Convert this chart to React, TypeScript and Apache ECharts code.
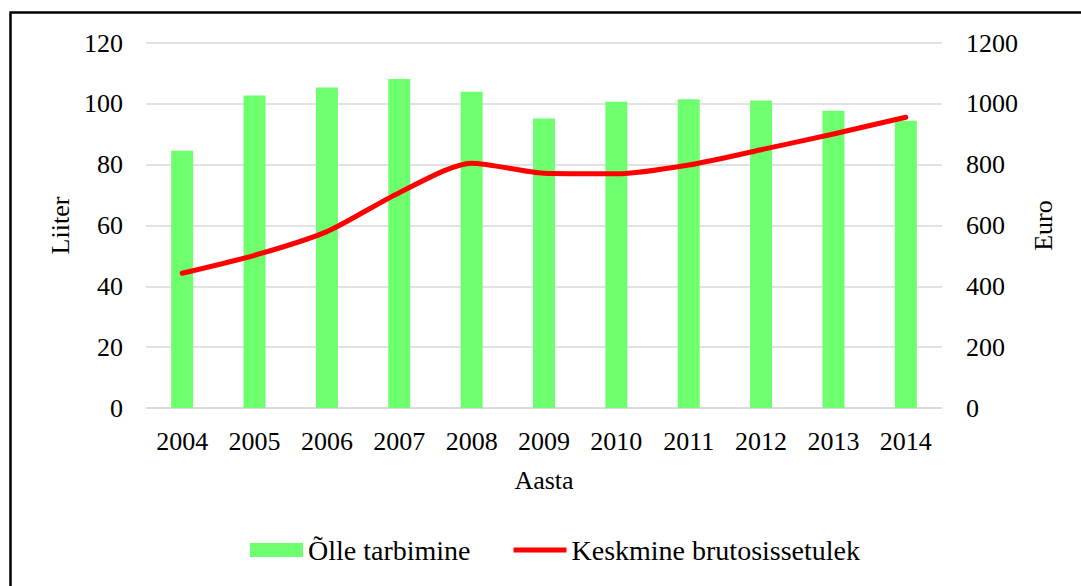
import React, { useEffect, useRef } from "react";
import * as echarts from "echarts";

const years = ["2004", "2005", "2006", "2007", "2008", "2009", "2010", "2011", "2012", "2013", "2014"];
const beerConsumption = [84.6, 102.7, 105.4, 108.2, 104.0, 95.2, 100.7, 101.5, 101.1, 97.7, 94.4];
const avgGrossIncome = [443, 502, 580, 708, 805, 772, 770, 799, 849, 901, 956];

const FONT = "Liberation Serif";

export default function App() {
  const ref = useRef<HTMLDivElement>(null);
  useEffect(() => {
    if (!ref.current) return;
    const chart = echarts.init(ref.current, undefined, { renderer: "svg" });
    chart.setOption({
      animation: false,
      backgroundColor: "#ffffff",
      textStyle: { fontFamily: FONT, color: "#000" },
      grid: { left: 146, right: 139, top: 43, bottom: 178, containLabel: false },
      graphic: [
        {
          type: "rect",
          shape: { x: 10.5, y: 12.5, width: 1200, height: 700 },
          style: { fill: "none", stroke: "#000", lineWidth: 2.5 },
          silent: true,
        },
      ],
      legend: {
        bottom: 17,
        left: 245,
        itemWidth: 53,
        itemHeight: 14,
        itemGap: 43,
        textStyle: { fontFamily: FONT, fontSize: 28, color: "#000" },
        data: [
          { name: "Õlle tarbimine", icon: "rect" },
          { name: "Keskmine brutosissetulek", icon: "path://M0,0 L53,0 L53,5 L0,5 Z" },
        ],
      },
      xAxis: {
        type: "category",
        data: years,
        name: "Aasta",
        nameLocation: "middle",
        nameGap: 59,
        nameTextStyle: { fontFamily: FONT, fontSize: 26, color: "#000" },
        axisLine: { show: true, lineStyle: { color: "#D9D9D9", width: 1.5 } },
        axisTick: { show: false },
        axisLabel: { fontFamily: FONT, fontSize: 26, color: "#000", margin: 20 },
      },
      yAxis: [
        {
          type: "value",
          min: 0,
          max: 120,
          interval: 20,
          name: "Liiter",
          nameLocation: "middle",
          nameRotate: 90,
          nameGap: 70,
          nameTextStyle: { fontFamily: FONT, fontSize: 26, color: "#000" },
          axisLine: { show: false },
          axisTick: { show: false },
          axisLabel: { fontFamily: FONT, fontSize: 26, color: "#000", margin: 23 },
          splitLine: { lineStyle: { color: "#D9D9D9", width: 1.5 } },
        },
        {
          type: "value",
          min: 0,
          max: 1200,
          interval: 200,
          name: "Euro",
          nameLocation: "middle",
          nameRotate: 90,
          nameGap: 88,
          nameTextStyle: { fontFamily: FONT, fontSize: 26, color: "#000" },
          axisLine: { show: false },
          axisTick: { show: false },
          axisLabel: {
            fontFamily: FONT,
            fontSize: 26,
            color: "#000",
            margin: 24,
            formatter: (v: number) => String(v),
          },
          splitLine: { show: false },
        },
      ],
      series: [
        {
          name: "Õlle tarbimine",
          type: "bar",
          yAxisIndex: 0,
          data: beerConsumption,
          barWidth: 22,
          itemStyle: { color: "#6DFF6D" },
        },
        {
          name: "Keskmine brutosissetulek",
          type: "line",
          yAxisIndex: 1,
          data: avgGrossIncome,
          smooth: 0.25,
          symbol: "none",
          lineStyle: { color: "#FF0000", width: 5, cap: "round", join: "round" },
          itemStyle: { color: "#FF0000" },
        },
      ],
    });
    return () => chart.dispose();
  }, []);
  return (
    <div
      ref={ref}
      style={{ position: "absolute", left: 0, top: 0, width: 1081, height: 586 }}
    />
  );
}
